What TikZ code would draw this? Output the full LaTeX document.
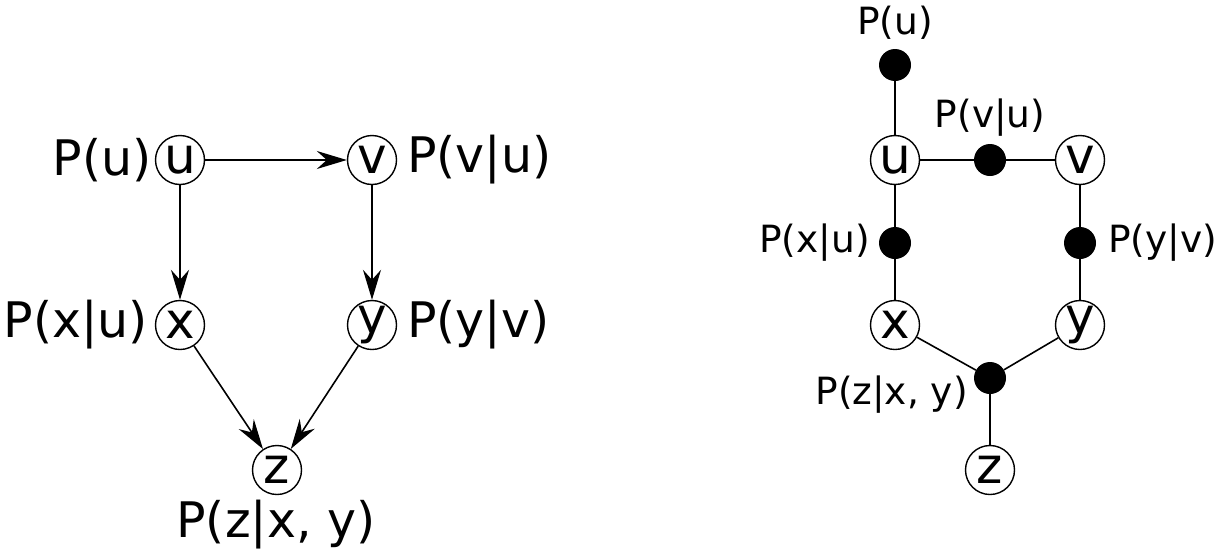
\documentclass[tikz,border=0pt]{standalone}
\usepackage{fontspec}
\setmainfont{DejaVu Sans}
\usetikzlibrary{arrows.meta,positioning}
\begin{document}
\begin{tikzpicture}[x=1pt,y=-1pt,
  var/.style={circle,draw,line width=1.4pt,minimum size=49pt,inner sep=0pt,font=\fontsize{50}{50}\selectfont},
  biglbl/.style={inner sep=0pt,font=\fontsize{49}{49}\selectfont},
  smalllbl/.style={inner sep=0pt,font=\fontsize{37.5}{37.5}\selectfont},
  fac/.style={circle,fill=black,minimum size=32pt,inner sep=0pt},
  arr/.style={line width=1.6pt,-{Stealth[length=30pt,width=18pt,inset=10pt]}},
  edge/.style={line width=1.6pt}]
\useasboundingbox (0,0) rectangle (1230,552);
% left: Bayesian network
\node[var] (u) at (180,160) {u};
\node[var] (v) at (372,160) {v};
\node[var] (x) at (180,325) {x};
\node[var] (y) at (372,325) {y};
\node[var] (z) at (277,470) {z};
\draw[arr] (u) -- (v);
\draw[arr] (u) -- (x);
\draw[arr] (v) -- (y);
\draw[arr] (x) -- (z);
\draw[arr] (y) -- (z);
\node[biglbl,anchor=east] (lu) at (152,160) {P(u)};
\node[biglbl,anchor=west] (lv) at (407,160) {P(v|u)};
\node[biglbl,anchor=east] (lx) at (148,325) {P(x|u)};
\node[biglbl,anchor=west] (ly) at (407,325) {P(y|v)};
\node[biglbl,anchor=north] (lz) at (276,500) {P(z|x, y)};
% right: factor graph
\node[var] (ru) at (895,160) {u};
\node[var] (rv) at (1080,160) {v};
\node[var] (rx) at (895,325) {x};
\node[var] (ry) at (1080,325) {y};
\node[var] (rz) at (990,470) {z};
\node[fac] (fu) at (895,65) {};
\node[fac] (fvu) at (990,160) {};
\node[fac] (fxu) at (895,243) {};
\node[fac] (fyv) at (1080,243) {};
\node[fac] (fz) at (990,378) {};
\draw[edge] (fu) -- (ru);
\draw[edge] (ru) -- (fvu) -- (rv);
\draw[edge] (ru) -- (fxu) -- (rx);
\draw[edge] (rv) -- (fyv) -- (ry);
\draw[edge] (rx) -- (fz) -- (ry);
\draw[edge] (fz) -- (rz);
\node[smalllbl,anchor=south] (lfu) at (895,40) {P(u)};
\node[smalllbl,anchor=south] (lfvu) at (990,137) {P(v|u)};
\node[smalllbl,anchor=east] (lfxu) at (870,243) {P(x|u)};
\node[smalllbl,anchor=west] (lfyv) at (1108,243) {P(y|v)};
\node[smalllbl,anchor=east] (lfz) at (968,395) {P(z|x, y)};
\end{tikzpicture}
\end{document}
